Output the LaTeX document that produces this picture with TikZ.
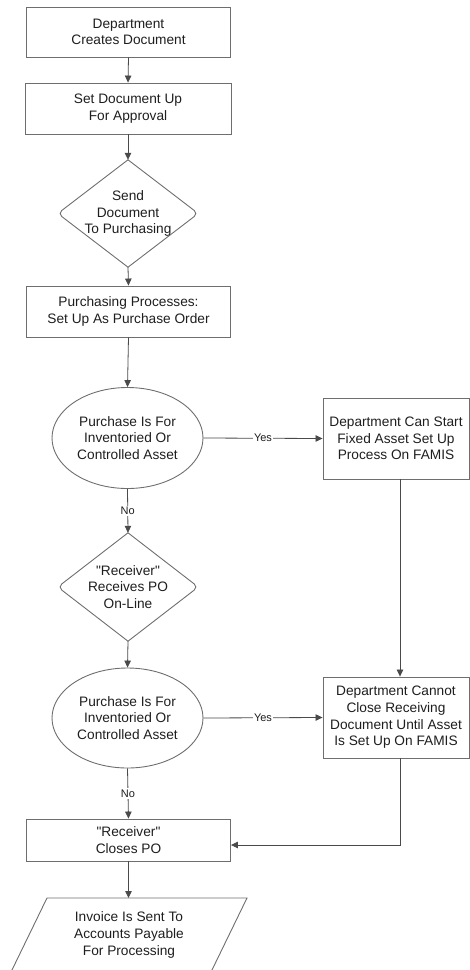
\documentclass[tikz,border=0pt]{standalone}
\usepackage{fontspec}
\newfontfamily\diagfont{Liberation Sans}
\usetikzlibrary{shapes.geometric,arrows.meta,calc}
\definecolor{edgec}{HTML}{6E6E6E}
\definecolor{linec}{HTML}{4A4A4A}
\definecolor{txtc}{HTML}{1E1E1E}
\begin{document}
\begin{tikzpicture}[x=1pt,y=-1pt,
  every node/.style={font=\diagfont\fontsize{13.7}{16.7}\selectfont, text=txtc, align=center, inner sep=0pt},
  box/.style={draw=edgec, line width=0.9pt, rectangle},
  shapeline/.style={draw=edgec, line width=0.9pt},
  diashape/.style={shape=diamond, draw=none, minimum width=140pt, minimum height=107pt, inner sep=0pt},
  ellshape/.style={shape=ellipse, draw=edgec, line width=0.9pt, minimum width=151pt, minimum height=101pt, inner sep=0pt},
  arr/.style={draw=linec, line width=0.8pt, -{Triangle[length=7pt,width=6.5pt]}},
  lbl/.style={font=\diagfont\fontsize{11}{13}\selectfont, fill=white, inner sep=1.5pt}
]
\useasboundingbox (0,0) rectangle (469,970);

% left column
\node[box, minimum width=204pt, minimum height=50pt] (b1) at (128.5,32) {Department\\Creates Document};
\node[box, minimum width=206pt, minimum height=51pt] (b2) at (128,108.5) {Set Document Up\\For Approval};

\node[diashape] (d1) at (128,213.5) {};
\node (d1t) at (d1) {Send\\Document\\To Purchasing};
\draw[shapeline, rounded corners=5pt] (d1.north) -- (d1.east) -- (d1.south);
\draw[shapeline, rounded corners=5pt] (d1.north) -- (d1.west) -- (d1.south);

\node[box, minimum width=204pt, minimum height=51pt] (b3) at (128.5,311.5) {Purchasing Processes:\\Set Up As Purchase Order};

\node[ellshape] (e1) at (127.5,438) {};
\node (e1t) at (e1) {Purchase Is For\\Inventoried Or\\Controlled Asset};

\node[diashape, minimum height=108pt] (d2) at (128,587) {};
\node (d2t) at (d2) {"Receiver"\\Receives PO\\On-Line};
\draw[shapeline, rounded corners=5pt] (d2.north) -- (d2.east) -- (d2.south);
\draw[shapeline, rounded corners=5pt] (d2.north) -- (d2.west) -- (d2.south);

\node[ellshape, minimum height=100pt] (e2) at (127.5,718) {};
\node (e2t) at (e2) {Purchase Is For\\Inventoried Or\\Controlled Asset};

\node[box, minimum width=204pt, minimum height=42pt] (b4) at (128.5,840) {"Receiver"\\Closes PO};

% parallelogram
\coordinate (pa) at (47,898);
\coordinate (pb) at (247,898);
\coordinate (pc) at (211,972);
\coordinate (pd) at (11,972);
\coordinate (ptop) at (128.5,898);
\draw[shapeline] (pa) -- (pb) -- (pc) -- (pd) -- cycle;
\node (inv) at (129,935) {Invoice Is Sent To\\Accounts Payable\\For Processing};

% right column
\node[box, minimum width=146pt, minimum height=81pt] (r1) at (396,438.5) {Department Can Start\\Fixed Asset Set Up\\Process On FAMIS};
\node[box, minimum width=146pt, minimum height=81pt] (r2) at (396,717.5) {Department Cannot\\Close Receiving\\Document Until Asset\\Is Set Up On FAMIS};

% connectors
\draw[arr] (b1.south) -- (b2.north);
\draw[arr] (b2.south) -- (d1.north);
\draw[arr] (d1.south) -- (b3.north);
\draw[arr] (b3.south) -- (e1.north);
\draw[arr] (e1.east) -- node[lbl] {Yes} (r1.west);
\draw[arr] (e1.south) -- node[lbl] {No} (d2.north);
\draw[arr] (d2.south) -- (e2.north);
\draw[arr] (e2.east) -- node[lbl] {Yes} (r2.west);
\draw[arr] (e2.south) -- node[lbl] {No} (b4.north);
\draw[arr] ($(r1.south)+(4,0)$) -- ($(r2.north)+(4,0)$);
\draw[arr] ($(r2.south)+(4,0)$) |- ($(b4.east)+(0,5)$);
\draw[arr] (b4.south) -- (ptop);
\end{tikzpicture}
\end{document}
